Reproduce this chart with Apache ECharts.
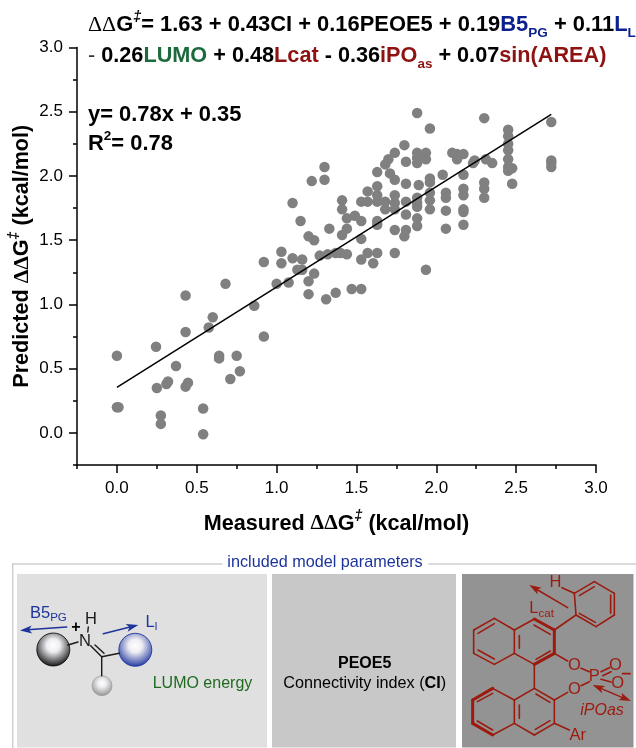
<!DOCTYPE html>
<html><head><meta charset="utf-8">
<style>html,body{margin:0;padding:0;background:#fff}#c{width:636px;height:748px}</style>
<script src="https://cdn.jsdelivr.net/npm/echarts@6/dist/echarts.min.js"></script></head>
<body><div id="c"></div>
<script>
var measured = [1.88,2.30,1.96,2.72,2.45,2.45,2.45,2.45,2.45,2.45,2.45,2.475,2.475,2.72,2.72,2.72,1.80,1.74,1.70,1.68,1.81,1.88,1.88,1.88,1.935,1.935,2.10,2.13,2.13,2.17,2.24,2.23,2.31,2.35,1.63,1.71,1.74,1.81,1.89,1.96,1.96,2.04,2.17,2.30,2.30,2.30,2.17,2.17,2.17,2.17,2.17,2.06,2.06,2.06,2.06,1.96,1.96,1.96,1.88,1.88,1.88,1.88,1.88,1.81,1.81,1.81,1.80,1.74,1.74,1.74,1.74,1.74,1.935,1.68,1.68,1.63,1.63,1.63,1.57,1.53,1.57,1.63,1.63,1.53,1.49,1.44,1.44,1.41,1.41,1.41,1.53,1.44,1.40,1.53,1.57,1.63,1.605,1.47,1.53,1.30,1.30,1.22,1.10,1.15,1.33,1.20,1.235,1.03,1.03,0.92,1.10,1.16,1.27,1.32,1.37,1.13,1.16,1.235,1.075,1.00,1.20,1.20,1.31,1.37,0.68,0.43,0,0,0.01,0.245,0.25,0.31,0.32,0.37,0.43,0.445,0.43,0.275,0.275,0.54,0.54,0.575,0.60,0.64,0.64,0.75,0.77,0.71,0.86,0.92];
var predicted = [2.49,2.45,2.37,2.42,2.36,2.31,2.25,2.20,2.13,2.07,2.04,2.06,1.94,2.12,2.10,2.07,2.24,2.18,2.13,2.09,2.11,2.18,2.14,2.10,2.18,2.13,2.18,2.13,2.17,2.17,2.12,2.10,2.13,2.10,2.03,2.02,1.97,1.94,1.93,1.98,1.95,2.01,2.01,1.95,1.90,1.83,1.90,1.85,1.74,1.72,1.62,1.87,1.83,1.73,1.59,1.87,1.81,1.74,1.83,1.79,1.76,1.67,1.61,1.80,1.70,1.58,1.53,1.85,1.79,1.74,1.58,1.40,1.27,1.80,1.74,1.92,1.85,1.80,1.88,1.80,1.80,1.65,1.62,1.65,1.69,1.67,1.59,1.81,1.74,1.54,1.51,1.39,1.40,1.35,1.40,1.40,1.32,1.12,1.12,2.07,1.97,1.96,1.79,1.65,1.59,1.53,1.50,1.41,1.32,1.33,1.36,1.35,1.38,1.39,1.40,1.27,1.27,1.24,1.17,1.16,1.18,1.08,1.04,1.09,1.16,1.07,0.60,0.20,0.20,0.67,0.35,0.38,0.40,0.52,0.36,0.39,0.785,0.135,0.07,0.19,-0.01,0.82,0.90,0.60,0.58,0.60,0.48,0.42,0.99,0.75];
var fitX = [0, 2.72];
var fitY = [0.354, 2.48];
var majorTicks = [0,0.5,1,1.5,2,2.5,3];
var minorTicks = [-0.25,0.25,0.75,1.25,1.75,2.25,2.75];

var INK='#000', FF='"Liberation Sans",Arial,sans-serif';
var BLUE='#0c1f8f', GREEN='#1c6b3c', RED='#8f1212', PBLUE='#1c349c', PRED='#9c1a0e';
function rich(sz){return {
  b:{fontFamily:FF,fontWeight:'bold',fontSize:sz,fill:INK,color:INK,lineHeight:sz+8},
  n:{fontFamily:FF,fontSize:sz,fill:'#333',color:'#333',lineHeight:sz+8},
  d:{fontFamily:'"Liberation Serif",serif',fontSize:sz,fill:INK,color:INK,lineHeight:sz+8},
  u:{fontFamily:FF,fontWeight:'bold',fontStyle:'italic',fontSize:sz*0.66,fill:INK,color:INK,verticalAlign:'top',lineHeight:sz+8},
  s:{fontFamily:FF,fontWeight:'bold',fontSize:sz*0.62,fill:INK,color:INK,verticalAlign:'top',lineHeight:sz+8},
  bl:{fontFamily:FF,fontWeight:'bold',fontSize:sz,fill:BLUE,color:BLUE,lineHeight:sz+8},
  bs:{fontFamily:FF,fontWeight:'bold',fontSize:sz*0.62,fill:BLUE,color:BLUE,verticalAlign:'bottom',lineHeight:sz+8},
  g:{fontFamily:FF,fontWeight:'bold',fontSize:sz,fill:GREEN,color:GREEN,lineHeight:sz+8},
  r:{fontFamily:FF,fontWeight:'bold',fontSize:sz,fill:RED,color:RED,lineHeight:sz+8},
  rs:{fontFamily:FF,fontWeight:'bold',fontSize:sz*0.62,fill:RED,color:RED,verticalAlign:'bottom',lineHeight:sz+8}
};}
function T(x,y,text,o){o=o||{};return {type:'text',x:x,y:y,scaleX:o.sx||1,z:o.z||20,style:{text:text,fontFamily:FF,fontSize:o.size||15,fontWeight:o.w||'normal',fontStyle:o.it||'normal',fill:o.c||INK,align:o.a||'left',verticalAlign:'middle',rich:o.rich}};}
function L(p,c,w,z){return {type:'line',z:z||15,shape:{x1:p[0],y1:p[1],x2:p[2],y2:p[3]},style:{stroke:c,lineWidth:w||1.5,lineCap:'round'}};}
function head(x1,y1,x2,y2,c,len,hw){
  var a=Math.atan2(y2-y1,x2-x1),l=len||12,h=hw||4,bx=x2-l*Math.cos(a),by=y2-l*Math.sin(a),nx=-Math.sin(a),ny=Math.cos(a),mx=x2-l*0.75*Math.cos(a),my=y2-l*0.75*Math.sin(a);
  return {type:'polygon',z:16,shape:{points:[[x2,y2],[bx+nx*h,by+ny*h],[mx,my],[bx-nx*h,by-ny*h]]},style:{fill:c}};
}
function sphere(cx,cy,r,edge,lw){return {type:'circle',z:14,shape:{cx:cx,cy:cy,r:r},style:{stroke:edge,lineWidth:lw||0.5,fill:{type:'radial',x:0.5,y:0.38,r:0.66,colorStops:[{offset:0,color:'#fff'},{offset:0.3,color:'#eeeef2'},{offset:1,color:edge}]}}};}
function subText(a,b){return '{a|'+a+'}{b|'+b+'}';}
function subRich(c){return {a:{fontFamily:FF,fontSize:16.5,fill:c,lineHeight:22},b:{fontFamily:FF,fontSize:11.5,fill:c,verticalAlign:'bottom',lineHeight:22}};}
var g=[];
g.push({type:'rect',z:1,shape:{x:17,y:574,width:250,height:173.5},style:{fill:'#e0e0e0'}});
g.push({type:'rect',z:1,shape:{x:272,y:574,width:184,height:173.5},style:{fill:'#c8c8c8'}});
g.push({type:'rect',z:1,shape:{x:462,y:574,width:171.5,height:173.5},style:{fill:'#939393'}});
g.push(L([12.7,748,12.7,564],'#cfcfcf',1.5,2));
g.push(L([12.7,564,222,564],'#cfcfcf',1.5,2));
g.push(L([429,564,636,564],'#cfcfcf',1.5,2));
g.push(T(325,562.5,'included model parameters',{size:16.2,c:PBLUE,a:'center'}));
// panel 1
g.push(T(30,613,subText('B5','PG'),{rich:subRich(PBLUE)}));
g.push(L([66.7,627,24,630],PBLUE,1.5));g.push(head(66.7,627,20,630.4,PBLUE));
g.push(L([103.3,633.7,133,626.3],PBLUE,1.5));g.push(head(103.3,633.7,138.3,625,PBLUE));
g.push(T(145.5,622,subText('L','l'),{rich:subRich(PBLUE)}));
g.push(sphere(53.3,649.5,16.5,'#000',0.8));g.push(sphere(135.3,649.8,16.5,'#122a9a',0.8));g.push(sphere(102,685.7,10,'#8a8a8a',0.5));
var ink2='#1a1a1a';
[[68,645,78,642],[90.7,645.7,101.7,656.7],[95,645,104,653.3],[101.7,656.7,119.3,653.3],[101.7,656.7,101.7,675.7],[88.3,627,87.8,632]].forEach(function(p){g.push(L(p,ink2,1.4));});
g.push(T(85,641.5,'N',{size:16.5,c:ink2,a:'center'}));
g.push(T(91,619,'H',{size:16.5,c:ink2,a:'center'}));
g.push(T(76,627.5,'+',{size:16,w:'bold',c:'#000',a:'center'}));
g.push(T(152.7,684,'LUMO energy',{size:16,c:'#1f6a1f'}));
// panel 2
g.push(T(364.7,664,'PEOE5',{size:16,w:'bold',a:'center'}));
g.push(T(364.7,684,'{a|Connectivity index (}{b|CI}{a|)}',{a:'center',rich:{a:{fontFamily:FF,fontSize:16.2,fill:'#000'},b:{fontFamily:FF,fontSize:16.2,fontWeight:'bold',fill:'#000'}}}));
// panel 3 molecule
function mx(v){return 316+v/3;} function my(v){return 545+v/3;}
function B(a,b,c,d,w){g.push(L([mx(a),my(b),mx(c),my(d)],PRED,w||1.6));}
var bonds=[[655,222,595,255],[595,255,535,220],[535,220,473,255],[473,255,473,325],[473,325,535,358],[535,358,595,325],[595,325,595,255],[595,325,655,358],
[655,358,655,430],[655,430,715,465],[715,465,715,535],[715,535,655,570],[655,570,595,535],[595,535,595,465],[595,465,655,430],[595,465,530,430],[595,535,530,570],
[610,272,610,310],[654,240,703,268],[703,318,660,343],[486,265,535,236],[486,315,535,342],[610,480,610,520],[660,447,702,472],[702,527,658,553],[484,470,530,445],[484,528,530,555],
[715,255,780,210],[775,145,835,110],[835,110,895,145],[895,145,895,210],[895,210,840,245],[840,245,780,210],[780,210,775,145],[790,152,835,125],[884,150,884,205],[790,205,838,232],
[738,128,775,145],[715,325,755,348],[795,370,820,380],[715,465,755,442],[795,422,820,410],[855,380,880,368],[860,392,885,380],[855,403,885,411],[715,535,760,555]];
bonds.forEach(function(b){B(b[0],b[1],b[2],b[3]);});
[[655,222,715,255],[715,255,715,325],[715,325,655,358],[530,430,470,465],[470,465,470,535],[470,535,530,570]].forEach(function(b){B(b[0],b[1],b[2],b[3],3);});
g.push(L([mx(755),my(188),mx(655),my(129)],PRED,1.5));g.push(head(mx(755),my(188),mx(640),my(120),PRED));
g.push(T(mx(640),my(190),subText('L','cat'),{rich:subRich(PRED)}));
g.push(L([mx(842),my(425),mx(932),my(463)],PRED,1.5));g.push(head(mx(880),my(441),mx(830),my(420),PRED));g.push(head(mx(890),my(445),mx(945),my(468),PRED));
[['H',718,112],['O',775,362],['O',775,432],['P',835,393],['O',898,362],['O',905,415],['Ar',785,570]].forEach(function(a){g.push(T(mx(a[1]),my(a[2]),a[0],{size:16.5,c:PRED,a:'center'}));});
g.push(L([mx(920),my(386),mx(942),my(386)],PRED,1.8));
g.push(T(mx(858),my(497),'iPOas',{size:16,it:'italic',c:PRED,a:'center'}));
// equations
var r21=rich(21.9);
g.push(T(88,25,'{d|ΔΔ}{b|G}{u|‡}{b|= 1.63 + 0.43CI + 0.16PEOE5 + 0.19}{bl|B5}{bs|PG}{b| + 0.11}{bl|L}{bs|L}',{rich:r21}));
g.push(T(88,56,'{n|-}{b| 0.26}{g|LUMO}{b| + 0.48}{r|Lcat}{b| - 0.36}{r|iPO}{rs|as}{b| + 0.07}{r|sin(AREA)}',{rich:r21,sx:0.99}));
g.push(T(88,115,'{b|y= 0.78x + 0.35}',{rich:r21}));
g.push(T(88,144,'{b|R}{s|2}{b|= 0.78}',{rich:r21}));

var pts=measured.map(function(x,i){return [x,predicted[i]];});
var fit=fitX.map(function(x,i){return [x,fitY[i]];});
function nm(){return '{d|ΔΔ}{b|G}{u|‡}{b| (kcal/mol)}';}
function axis(pos,nameTxt,gap,rot,m,fs){return {type:'value',position:pos,min:-0.25,max:3,name:nameTxt,nameLocation:'middle',nameGap:gap,nameRotate:rot,nameMoveOverlap:false,
  nameTextStyle:{rich:rich(fs),fontFamily:FF,fontWeight:'bold',fontSize:fs,color:INK},
  axisLine:{show:true,onZero:false,lineStyle:{color:'#000',width:1.5}},
  axisTick:{show:true,customValues:majorTicks,length:8,lineStyle:{color:'#000',width:1.5}},
  axisLabel:{show:true,customValues:majorTicks,formatter:function(v){return v.toFixed(1);},fontFamily:FF,fontSize:17,color:'#000',margin:m},
  splitLine:{show:false},minorTick:{show:false}};}
function minor(pos){return {type:'value',position:pos,min:-0.25,max:3,
  axisLine:{show:false,onZero:false},axisTick:{show:true,customValues:minorTicks,length:4,lineStyle:{color:'#000',width:1.5}},axisLabel:{show:false},splitLine:{show:false}};}
var chart=echarts.init(document.getElementById('c'),null,{renderer:'canvas'});
chart.setOption({animation:false,backgroundColor:'#fff',
 grid:{left:77,right:40,top:47.5,bottom:283,containLabel:false,outerBoundsMode:'none'},
 xAxis:[axis('bottom','{b|Measured }'+nm(),44,0,15,21.6),minor('bottom')],
 yAxis:[axis('left','{b|Predicted }'+nm(),40,90,14,21.6),minor('left')],
 graphic:{elements:g},
 series:[
  {type:'scatter',data:pts,symbolSize:10.5,itemStyle:{color:'#808080',opacity:1},z:2,silent:true},
  {type:'line',data:fit,symbol:'none',lineStyle:{color:'#000',width:1.5},z:3,silent:true}
 ]});
</script></body></html>
